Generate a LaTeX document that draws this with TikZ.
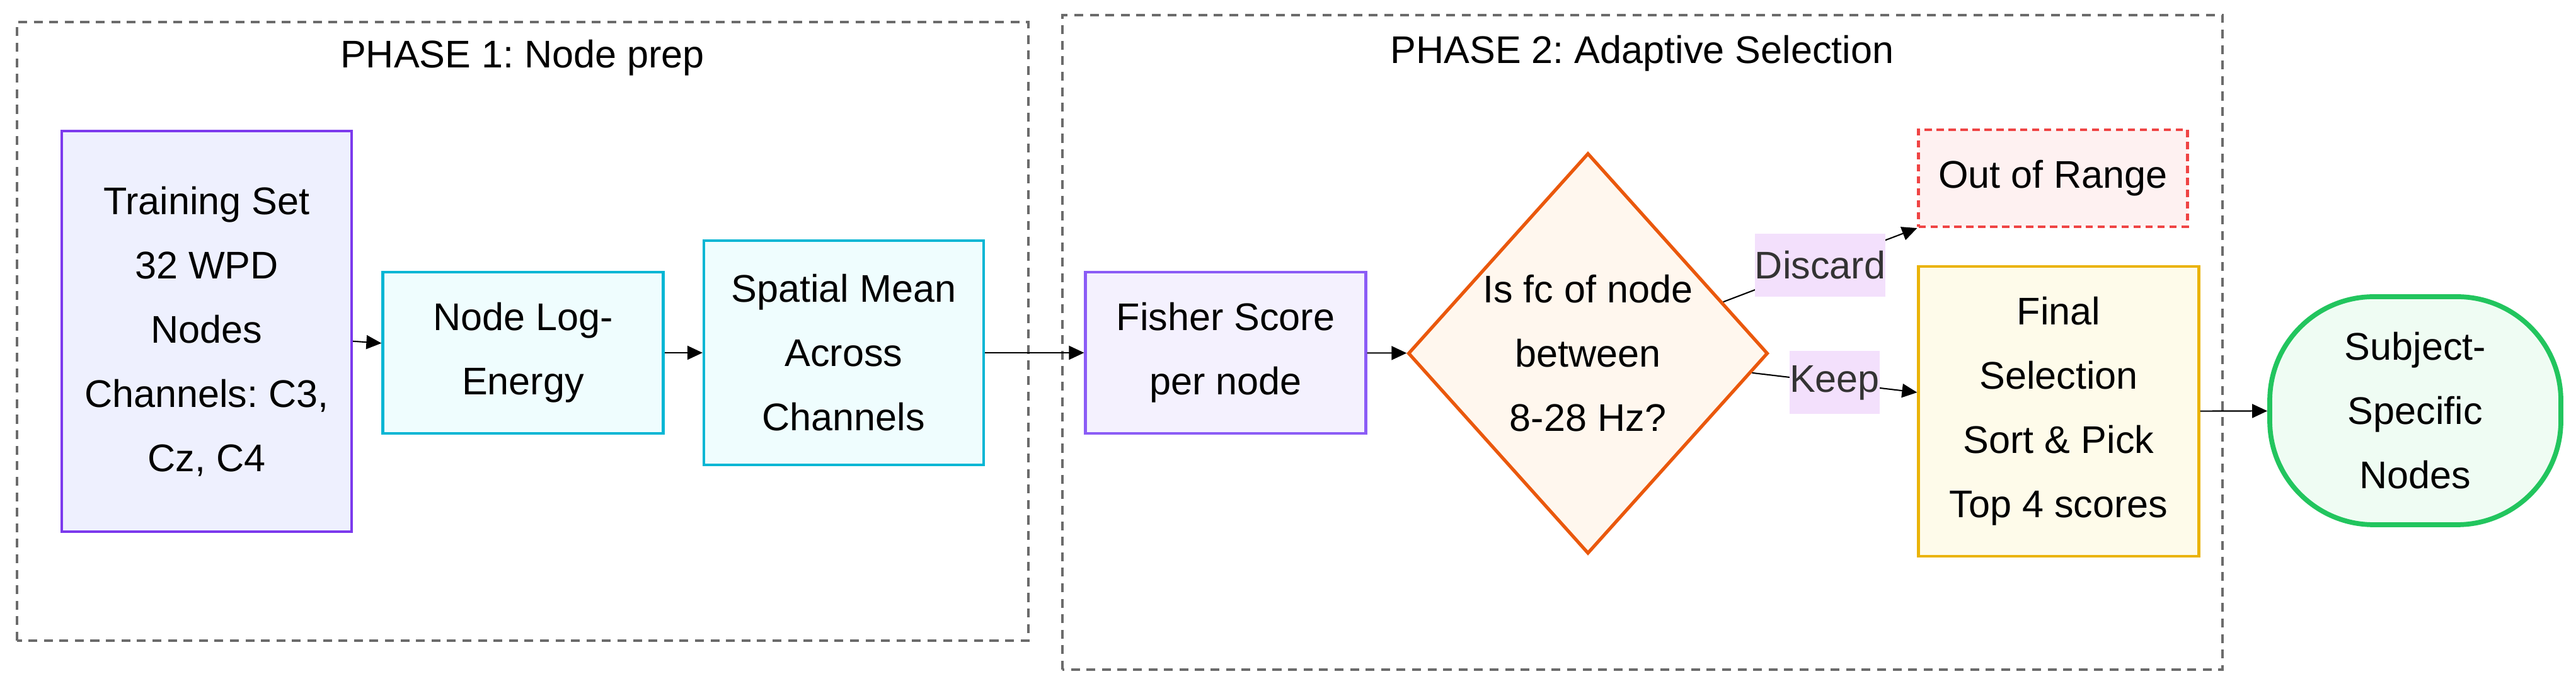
\documentclass[tikz,border=0pt]{standalone}
\usepackage{fontspec}
\setmainfont{Liberation Sans}
\usetikzlibrary{shapes.geometric,arrows.meta}
\frenchspacing

\definecolor{violetline}{HTML}{7C3AED}
\definecolor{violetfill}{HTML}{EEF0FE}
\definecolor{lilacline}{HTML}{8B5CF6}
\definecolor{lilacfill}{HTML}{F4F1FE}
\definecolor{cyanline}{HTML}{06B6D4}
\definecolor{cyanfill}{HTML}{EFFDFE}
\definecolor{orangeline}{HTML}{EA580C}
\definecolor{orangefill}{HTML}{FFF7EE}
\definecolor{redline}{HTML}{EF4444}
\definecolor{redfill}{HTML}{FEF1F1}
\definecolor{amberline}{HTML}{EAB308}
\definecolor{amberfill}{HTML}{FEFBEA}
\definecolor{greenline}{HTML}{22C55E}
\definecolor{greenfill}{HTML}{EFFCF3}
\definecolor{tagfill}{HTML}{F3E0FC}
\definecolor{phasegray}{HTML}{6B6B6B}
\definecolor{tagtext}{HTML}{333333}

\begin{document}
\begin{tikzpicture}[
    font=\fontsize{17.4}{29}\selectfont,
    box/.style={rectangle, align=center, line width=1.2pt, inner sep=0pt},
    phase/.style={phasegray, line width=0.9pt, dash pattern=on 4pt off 3pt},
    flow/.style={line width=0.6pt, -{Triangle[length=0.24cm, width=0.22cm]}},
    tag/.style={fill=tagfill, text=tagtext, inner xsep=0pt, inner ysep=0pt, minimum height=1cm}
  ]
    % 1. TAMANHO DA FOLHA (mesmas proporções da figura)
    \def\W{40.88}   % largura total
    \def\H{10.89}   % altura total
    \useasboundingbox (0,0) rectangle (\W,\H);

    % ==========================================
    % 2. MOLDURAS DAS FASES
    % ==========================================
    \draw[phase] (0.27,0.72) rectangle (16.32,10.54);
    \node[anchor=base] (titleone) at (8.29,9.81) {PHASE 1: Node prep};

    \draw[phase] (16.86,0.26) rectangle (35.27,10.65);
    \node[anchor=base] (titletwo) at (26.06,9.88) {PHASE 2: Adaptive Selection};

    % ==========================================
    % 3. FASE 1
    % ==========================================
    \node[box, draw=violetline, fill=violetfill, minimum width=4.60cm, minimum height=6.36cm]
        (train) at (3.28,5.63) {Training Set\\32 WPD\\Nodes\\Channels: C3,\\Cz, C4};
    \node[box, draw=cyanline, fill=cyanfill, minimum width=4.45cm, minimum height=2.56cm]
        (logen) at (8.30,5.29) {Node Log-\\Energy};
    \node[box, draw=cyanline, fill=cyanfill, minimum width=4.44cm, minimum height=3.56cm]
        (spatial) at (13.39,5.29) {Spatial Mean\\Across\\Channels};

    % ==========================================
    % 4. FASE 2
    % ==========================================
    \node[box, draw=lilacline, fill=lilacfill, minimum width=4.45cm, minimum height=2.56cm]
        (fisher) at (19.45,5.29) {Fisher Score\\per node};

    % Losango de decisão (texto num nó à parte)
    \node[diamond, draw=orangeline, fill=orangefill, line width=1.5pt, inner sep=0pt,
          minimum width=5.71cm, minimum height=6.36cm] (check) at (25.20,5.28) {};
    \node[align=center] (checktxt) at (check) {Is fc of node\\between\\8-28 Hz?};

    \node[box, draw=redline, fill=redfill, dash pattern=on 3.2pt off 2.2pt,
          minimum width=4.27cm, minimum height=1.54cm] (outrange) at (32.58,8.06) {Out of Range};
    \node[box, draw=amberline, fill=amberfill, minimum width=4.45cm, minimum height=4.60cm]
        (final) at (32.67,4.36) {Final\\Selection\\Sort \& Pick\\Top 4 scores};

    % Saída final
    \node[box, draw=greenline, fill=greenfill, line width=2.2pt, rounded corners=1.65cm,
          minimum width=4.62cm, minimum height=3.62cm] (subject) at (38.33,4.37) {Subject-\\Specific\\Nodes};

    % ==========================================
    % 5. LIGAÇÕES
    % ==========================================
    \draw[flow] (train) -- (logen);
    \draw[flow] (logen) -- (spatial);
    \draw[flow] (spatial) -- (fisher);
    \draw[flow] (fisher) -- (check);
    \draw[flow] (check) -- node[tag] (discardlbl) {Discard} (outrange.south west);
    \draw[flow] (check) -- node[tag] (keeplbl) {Keep} ([yshift=0.30cm]final.west);
    \draw[flow] (final) -- (subject);
\end{tikzpicture}
\end{document}
